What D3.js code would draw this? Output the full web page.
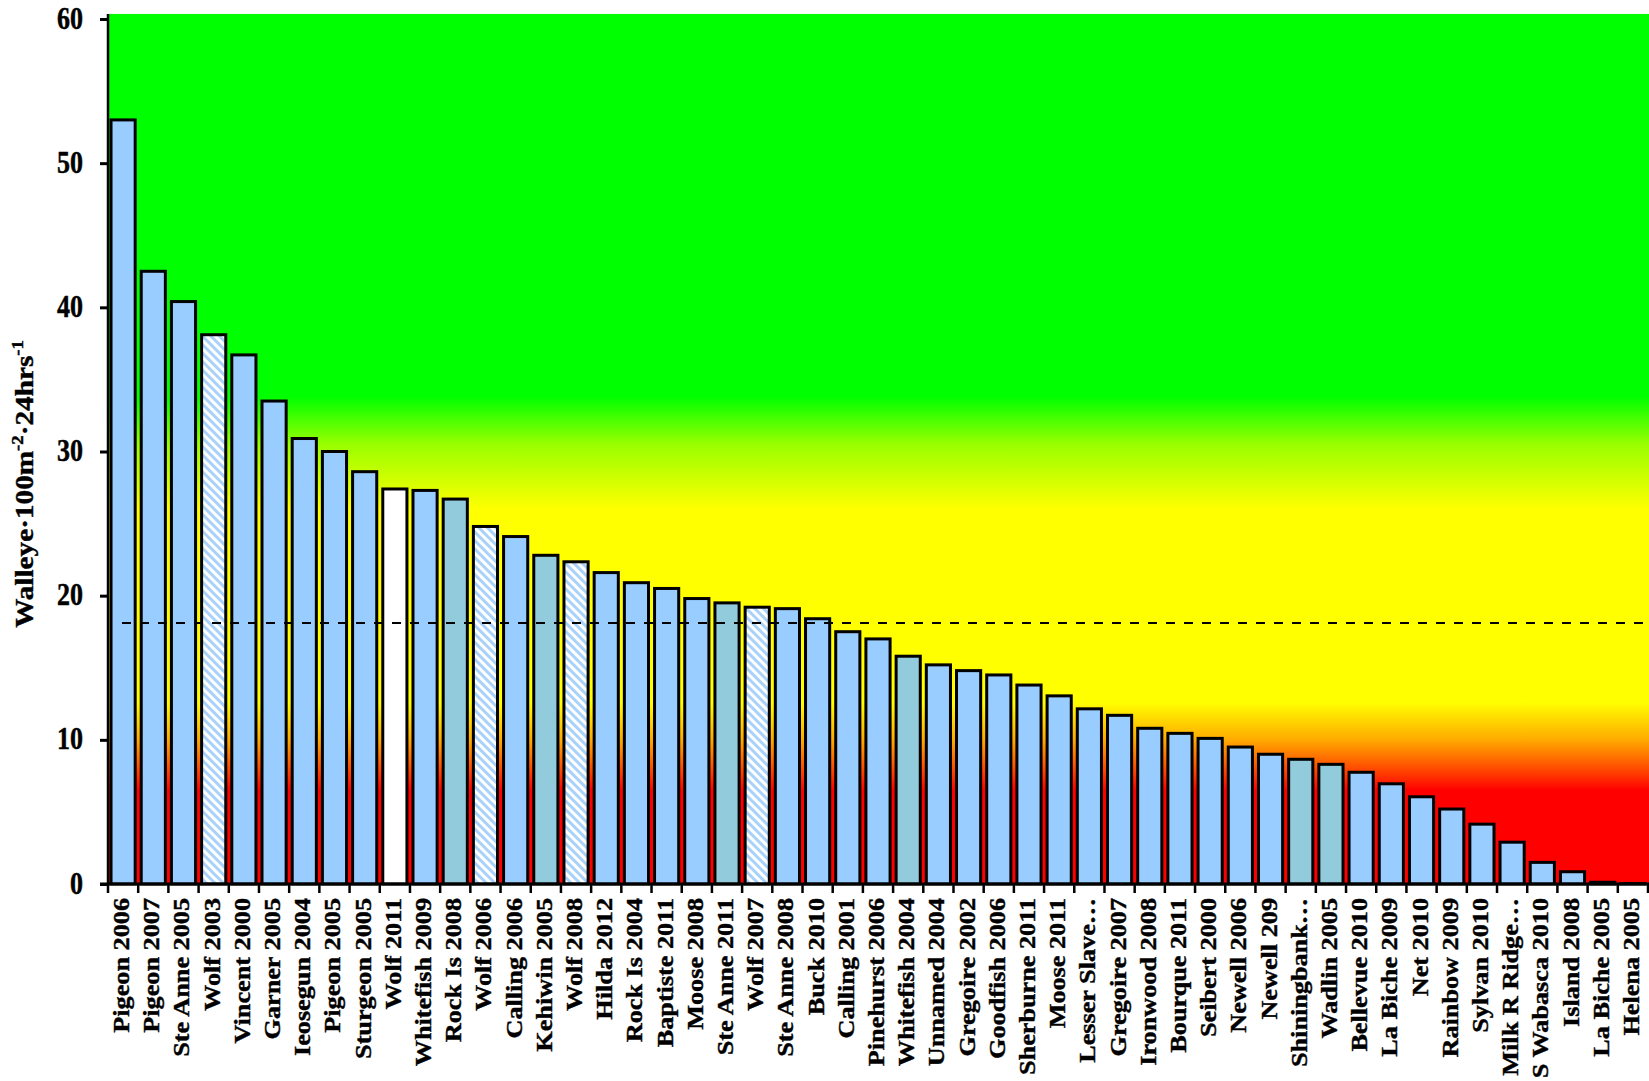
<!DOCTYPE html>
<html>
<head>
<meta charset="utf-8">
<script src="https://cdn.jsdelivr.net/npm/d3@7"></script>
<style>
  html, body { margin: 0; padding: 0; background: #fff; }
  svg { display: block; }
  text { font-family: "Liberation Serif", "Times New Roman", serif; font-weight: bold; fill: #000; stroke: #000; stroke-width: 0.4px; }
</style>
</head>
<body>
<svg id="chart" width="1649" height="1081"></svg>
<script>
// Lake survey names (year of netting)
const lakes = [
  "Pigeon 2006", "Pigeon 2007", "Ste Anne 2005", "Wolf 2003", "Vincent 2000",
  "Garner 2005", "Ieosegun 2004", "Pigeon 2005", "Sturgeon 2005", "Wolf 2011",
  "Whitefish 2009", "Rock Is 2008", "Wolf 2006", "Calling 2006", "Kehiwin 2005",
  "Wolf 2008", "Hilda 2012", "Rock Is 2004", "Baptiste 2011", "Moose 2008",
  "Ste Anne 2011", "Wolf 2007", "Ste Anne 2008", "Buck 2010", "Calling 2001",
  "Pinehurst 2006", "Whitefish 2004", "Unnamed 2004", "Gregoire 2002", "Goodfish 2006",
  "Sherburne 2011", "Moose 2011", "Lesser Slave…", "Gregoire 2007", "Ironwood 2008",
  "Bourque 2011", "Seibert 2000", "Newell 2006", "Newell 209", "Shiningbank…",
  "Wadlin 2005", "Bellevue 2010", "La Biche 2009", "Net 2010", "Rainbow 2009",
  "Sylvan 2010", "Milk R Ridge…", "S Wabasca 2010", "Island 2008", "La Biche 2005",
  "Helena 2005"
];

// Walleye catch per 100 m2 of net per 24 hrs
const catchRate = [
  53.0, 42.5, 40.4, 38.1, 36.7,
  33.5, 30.9, 30.0, 28.6, 27.4,
  27.3, 26.7, 24.8, 24.1, 22.8,
  22.35, 21.6, 20.9, 20.5, 19.8,
  19.5, 19.2, 19.1, 18.4, 17.5,
  17.0, 15.8, 15.2, 14.8, 14.5,
  13.8, 13.05, 12.15, 11.7, 10.8,
  10.45, 10.1, 9.5, 9.0, 8.65,
  8.3, 7.75, 6.95, 6.05, 5.2,
  4.15, 2.9, 1.5, 0.85, 0.12,
  0.03
];

// Survey group for each bar: b = standard, t = other gear, w = 2011 index, h = earlier Wolf surveys
const surveyGroup = [
  "b", "b", "b", "h", "b",
  "b", "b", "b", "b", "w",
  "b", "t", "h", "b", "t",
  "h", "b", "b", "b", "b",
  "t", "h", "b", "b", "b",
  "b", "t", "b", "b", "b",
  "b", "b", "b", "b", "b",
  "b", "b", "b", "b", "t",
  "t", "b", "b", "b", "b",
  "b", "b", "b", "b", "b",
  "b"
];

const yTicks = [0, 10, 20, 30, 40, 50, 60];
const referenceLevel = 18.1;

const svg = d3.select("#chart");
const left = 108, right = 1648, bottom = 884;

const y = d3.scaleLinear().domain([0, 60]).range([bottom, 19]);
const x = d3.scaleBand().domain(lakes).range([left, right]).paddingInner(0.2).paddingOuter(0.1);

const defs = svg.append("defs");

// Background colour bands: green (high), yellow (moderate), red (low)
const bgTop = y(60.35), span = bottom - bgTop;
const grad = defs.append("linearGradient")
  .attr("id", "zones").attr("gradientUnits", "userSpaceOnUse")
  .attr("x1", 0).attr("x2", 0).attr("y1", bgTop).attr("y2", bottom);
const stop = (v, c) => grad.append("stop").attr("offset", (y(v) - bgTop) / span).attr("stop-color", c);
stop(60.35, "#00ff00");
stop(33.8, "#00ff00");
stop(30.5, "#99ff00");
stop(26.0, "#ffff00");
stop(12.6, "#ffff00");
stop(10.0, "#ffaa00");
stop(7.5, "#ff3300");
stop(6.5, "#ff0000");
stop(0, "#ff0000");

const hatch = defs.append("pattern")
  .attr("id", "hatch").attr("patternUnits", "userSpaceOnUse")
  .attr("width", 6).attr("height", 6)
  .attr("patternTransform", "rotate(-45)");
hatch.append("rect").attr("width", 6).attr("height", 6).attr("fill", "#ffffff");
hatch.append("rect").attr("width", 3).attr("height", 6).attr("fill", "#a9d2fb");

const fills = { b: "#99ccff", t: "#92cbdb", w: "#ffffff", h: "url(#hatch)" };

svg.append("rect")
  .attr("x", left).attr("y", bgTop)
  .attr("width", 1649 - left).attr("height", bottom - bgTop)
  .attr("fill", "url(#zones)");

// Bars
svg.append("g").selectAll("rect")
  .data(lakes)
  .join("rect")
  .attr("x", d => x(d))
  .attr("width", x.bandwidth())
  .attr("y", (d, i) => y(catchRate[i]))
  .attr("height", (d, i) => y(0) - y(catchRate[i]))
  .attr("fill", (d, i) => fills[surveyGroup[i]])
  .attr("stroke", "#000")
  .attr("stroke-width", 3);

// Reference line
svg.append("line")
  .attr("x1", 122).attr("x2", 1649)
  .attr("y1", y(referenceLevel)).attr("y2", y(referenceLevel))
  .attr("stroke", "#000").attr("stroke-width", 2)
  .attr("stroke-dasharray", "9,9");

// Y axis
const yAxis = svg.append("g")
  .attr("transform", `translate(${left},0)`)
  .call(d3.axisLeft(y).tickValues(yTicks).tickSize(8).tickFormat(d3.format("d")));
yAxis.select(".domain").remove();
yAxis.selectAll(".tick line").attr("stroke", "#000").attr("stroke-width", 3);
yAxis.selectAll(".tick text")
  .attr("x", 0).attr("dy", null)
  .attr("font-size", 26)
  .attr("fill", "#000")
  .attr("text-anchor", "end")
  .attr("transform", "translate(-25,9) scale(1,1.18)");
svg.append("line")
  .attr("x1", left).attr("x2", left)
  .attr("y1", bgTop).attr("y2", bottom)
  .attr("stroke", "#000").attr("stroke-width", 2.5);

// X axis with ticks between categories
const step = x.step();
const boundaries = d3.range(lakes.length + 1).map(i => left + i * step);
svg.append("line")
  .attr("x1", 100).attr("x2", 1649)
  .attr("y1", bottom).attr("y2", bottom)
  .attr("stroke", "#000").attr("stroke-width", 3);
svg.append("g").selectAll("line")
  .data(boundaries)
  .join("line")
  .attr("x1", d => d).attr("x2", d => d)
  .attr("y1", bottom).attr("y2", bottom + 9)
  .attr("stroke", "#000").attr("stroke-width", 2.5);

svg.append("g").selectAll("text")
  .data(lakes)
  .join("text")
  .attr("font-size", 23)
  .attr("text-anchor", "end")
  .attr("transform", d => `translate(${x(d) + x.bandwidth() / 2 + 6},898) rotate(-90) scale(1.14,1)`)
  .text(d => d);

// Y axis title
const title = svg.append("text")
  .attr("font-size", 25)
  .attr("text-anchor", "middle")
  .attr("transform", "translate(33,484) rotate(-90) scale(1.17,1)");
title.append("tspan").text("Walleye·100m");
title.append("tspan").attr("font-size", 16).attr("dy", -10).text("-2");
title.append("tspan").attr("dy", 10).text("·24hrs");
title.append("tspan").attr("font-size", 16).attr("dy", -10).text("-1");
</script>
</body>
</html>
